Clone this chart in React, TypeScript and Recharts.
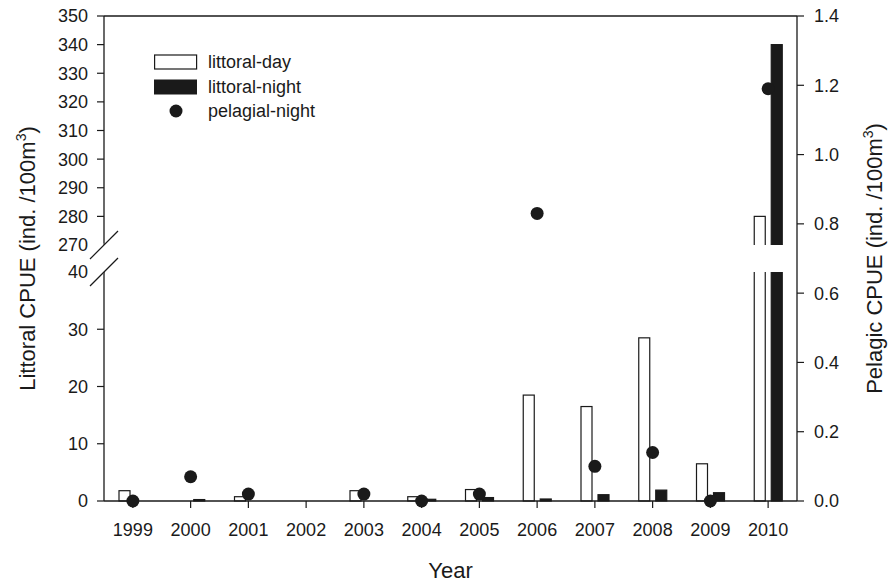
import { ComposedChart, Bar, Line, XAxis, YAxis, ReferenceLine, Legend, Label } from 'recharts'

const years = ['1999', '2000', '2001', '2002', '2003', '2004', '2005', '2006', '2007', '2008', '2009', '2010']
const littoralDay = [1.8, 0, 0.75, 0, 1.8, 0.75, 2.0, 18.5, 16.5, 28.5, 6.5, 280]
const littoralNight = [0, 0.25, 0, 0, 0, 0.3, 0.6, 0.35, 1.1, 1.9, 1.45, 340]
const pelagialNight = [0, 0.07, 0.02, null, 0.02, 0, 0.02, 0.83, 0.1, 0.14, 0, 1.19]
const leftTicks = [0, 10, 20, 30, 40, 270, 280, 290, 300, 310, 320, 330, 340, 350]
const rightTicks = [0, 0.2, 0.4, 0.6, 0.8, 1.0, 1.2, 1.4]

const INK = '#1a1a1a'
const FONT = "'Liberation Sans', Arial, sans-serif"

// broken left axis: 0-40 on the lower part, 270-350 on the upper part
const LOW = 229
const GAP = 27
const UP = 229
const TOP = LOW + GAP + UP
function brk(v: number) {
  if (v <= 40) return (v / 40) * LOW
  return LOW + GAP + ((v - 270) / 80) * UP
}

const data = years.map((year, i) => ({
  year,
  day: brk(littoralDay[i]),
  night: brk(littoralNight[i]),
  pelagic: pelagialNight[i],
}))

const TICK = 7
const LEFT_MARGIN = 9

function barShape(key: 'day' | 'night', fill: string) {
  return (p: any) => {
    const { x, y, width, height } = p
    if (!height || height <= 0) return <g />
    const v = p.payload[key]
    const ppu = height / v
    const base = y + height
    return (
      <g>
        <rect x={x} y={y} width={width} height={height} fill={fill} stroke={INK} strokeWidth={1.2} />
        {v > LOW + GAP && (
          <rect x={x - 2} y={base - (LOW + GAP) * ppu} width={width + 4} height={GAP * ppu} fill="#fff" />
        )}
      </g>
    )
  }
}

function LeftTick(p: any) {
  const { x, y, payload } = p
  const label = leftTicks.find(t => Math.abs(brk(t) - payload.value) < 1e-6)
  const axisX = x + TICK + LEFT_MARGIN
  const isBreak = label === 40 || label === 270
  return (
    <g>
      {label === 40 && <rect x={axisX - 2} y={y - GAP} width={4} height={GAP} fill="#fff" />}
      {isBreak && <rect x={axisX - TICK - 1} y={y - 1.5} width={TICK + 0.5} height={3} fill="#fff" />}
      {isBreak && (
        <line x1={axisX - 14} y1={y + 14} x2={axisX + 14} y2={y - 14} stroke={INK} strokeWidth={1.2} />
      )}
      <text x={x} y={y} dy="0.355em" textAnchor="end" fontSize={18} fill={INK}>
        {label}
      </text>
    </g>
  )
}

function LegendBox() {
  const row: React.CSSProperties = { display: 'flex', alignItems: 'center', height: 24.5, fontSize: 18, color: INK, lineHeight: '18px' }
  return (
    <div>
      <div style={row}>
        <svg width={54} height={16}><rect x={0.6} y={1} width={42} height={14} fill="#fff" stroke={INK} strokeWidth={1.2} /></svg>
        <span>littoral-day</span>
      </div>
      <div style={row}>
        <svg width={54} height={16}><rect x={0} y={0.5} width={43} height={15} fill={INK} /></svg>
        <span>littoral-night</span>
      </div>
      <div style={row}>
        <svg width={54} height={16}><circle cx={22} cy={8} r={6.5} fill={INK} /></svg>
        <span>pelagial-night</span>
      </div>
    </div>
  )
}

function yTitle(text: string, dx: number) {
  return (props: any) => {
    const vb = props.viewBox
    const cx = vb.x + dx
    const cy = vb.y + vb.height / 2
    return (
      <text x={cx} y={cy} transform={`rotate(-90 ${cx} ${cy})`} textAnchor="middle" fontSize={22} fill={INK}>
        {text}
        <tspan dy={-9} fontSize={14}>3</tspan>
        <tspan dy={9}>)</tspan>
      </text>
    )
  }
}

function XTitle(props: any) {
  const vb = props.viewBox
  return (
    <text x={vb.x + vb.width / 2} y={vb.y + 77} textAnchor="middle" fontSize={22} fill={INK}>
      Year
    </text>
  )
}

export default function App() {
  return (
    <div style={{ position: 'absolute', left: 0, top: 0, fontFamily: FONT, background: '#fff' }}>
      <ComposedChart width={894} height={582} data={data} margin={{ top: 16, right: 0, bottom: 0, left: 0 }} barGap={6}>
        <XAxis
          dataKey="year"
          height={81}
          tickSize={TICK}
          tickMargin={15}
          tick={{ fontSize: 18, fill: INK }}
          stroke={INK}
          axisLine={{ stroke: INK, strokeWidth: 1.3 }}
          tickLine={{ stroke: INK, strokeWidth: 1.2 }}
        >
          <Label content={XTitle} />
        </XAxis>
        <YAxis
          yAxisId="left"
          width={104}
          domain={[0, TOP]}
          ticks={leftTicks.map(brk)}
          interval={0}
          tickSize={TICK}
          tickMargin={LEFT_MARGIN}
          tick={LeftTick}
          axisLine={{ stroke: INK, strokeWidth: 1.3 }}
          tickLine={{ stroke: INK, strokeWidth: 1.2 }}
        >
          <Label content={yTitle('Littoral CPUE (ind. /100m', 35)} />
        </YAxis>
        <YAxis
          yAxisId="right"
          orientation="right"
          width={97}
          domain={[0, 1.4]}
          ticks={rightTicks}
          interval={0}
          tickFormatter={(v: number) => v.toFixed(1)}
          tickSize={TICK}
          tickMargin={10}
          tick={{ fontSize: 18, fill: INK }}
          axisLine={{ stroke: INK, strokeWidth: 1.3 }}
          tickLine={{ stroke: INK, strokeWidth: 1.2 }}
        >
          <Label content={yTitle('Pelagic CPUE (ind. /100m', 85)} />
        </YAxis>
        <ReferenceLine yAxisId="left" y={TOP} stroke={INK} strokeWidth={1.3} />
        <Legend
          layout="vertical"
          align="center"
          verticalAlign="middle"
          content={() => <LegendBox />}
          wrapperStyle={{ left: 154, top: 50, width: 220 }}
        />
        <Bar yAxisId="left" dataKey="day" barSize={11} shape={barShape('day', '#fff')} isAnimationActive={false} />
        <Bar yAxisId="left" dataKey="night" barSize={11} shape={barShape('night', INK)} isAnimationActive={false} />
        <Line
          yAxisId="right"
          dataKey="pelagic"
          stroke="none"
          dot={{ r: 6.5, fill: INK, stroke: 'none' }}
          activeDot={false}
          isAnimationActive={false}
        />
      </ComposedChart>
    </div>
  )
}
